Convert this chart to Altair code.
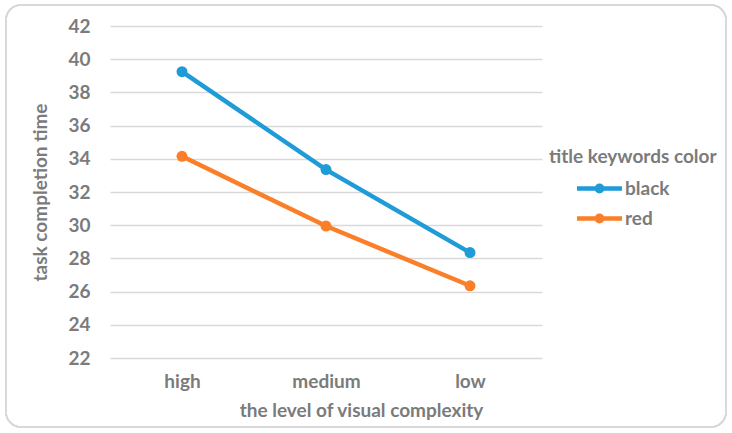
import altair as alt
import pandas as pd

categories = ["high", "medium", "low"]
black_vals = [39.25, 33.35, 28.35]
red_vals = [34.15, 29.95, 26.35]
series_names = ["black", "red"]
y_ticks = list(range(22, 43, 2))

rows = []
for c, v in zip(categories, black_vals):
    rows.append({"level": c, "time": v, "color": "black"})
for c, v in zip(categories, red_vals):
    rows.append({"level": c, "time": v, "color": "red"})
df = pd.DataFrame(rows)

FONT = "Lato"
GRAY = "#7b7b7b"
FS = 19

legend_symbol = "M-1.5,0H1.5M-0.18,0A0.18,0.18,0,1,0,0.18,0A0.18,0.18,0,1,0,-0.18,0Z"

lines = alt.Chart(df).mark_line(
    point=alt.OverlayMarkDef(filled=True, size=120), strokeWidth=4.5
).encode(
    x=alt.X("level:N", sort=categories, scale=alt.Scale(type="point", padding=0.5),
            axis=alt.Axis(title="the level of visual complexity", labelAngle=0,
                          labelPadding=14, titlePadding=10, titleX=251,
                          domain=False, ticks=False, grid=False)),
    y=alt.Y("time:Q", scale=alt.Scale(domain=[22, 42], nice=False, zero=False),
            axis=alt.Axis(title="task completion time", values=y_ticks,
                          labelPadding=20, titlePadding=17,
                          domain=False, ticks=False, grid=True)),
    color=alt.Color("color:N", scale=alt.Scale(domain=series_names, range=["#1f9bd7", "#fb7f28"]),
                    legend=alt.Legend(title="title keywords color", orient="none",
                                      legendX=439, legendY=122,
                                      symbolType=legend_symbol, symbolStrokeWidth=4.5,
                                      symbolSize=900, symbolFillColor="transparent",
                                      symbolOffset=33, labelOffset=8,
                                      labelFontSize=FS, titleFontSize=FS,
                                      labelColor=GRAY, titleColor=GRAY,
                                      labelFont=FONT, titleFont=FONT,
                                      labelFontWeight="bold", titleFontWeight="bold",
                                      padding=0, rowPadding=0, titlePadding=4, offset=0)),
)

border = alt.Chart(df).mark_rect(
    fill=None, stroke="#d9d9d9", strokeWidth=1.5, cornerRadius=15, clip=False
).encode(x=alt.value(-104), x2=alt.value(616), y=alt.value(-21), y2=alt.value(401))

chart = alt.layer(border, lines).properties(
    width=432, height=332,
    autosize=alt.AutoSizeParams(type="none"),
    padding={"left": 110, "top": 26, "right": 190, "bottom": 75},
    background="white",
).configure_view(stroke=None).configure_axis(
    labelFont=FONT, titleFont=FONT, labelFontSize=FS, titleFontSize=FS,
    labelColor=GRAY, titleColor=GRAY, labelFontWeight="bold", titleFontWeight="bold",
    gridColor="#d9d9d9", gridWidth=1.5,
)

chart.save("out.html", embed_options={"renderer": "svg", "actions": False})
